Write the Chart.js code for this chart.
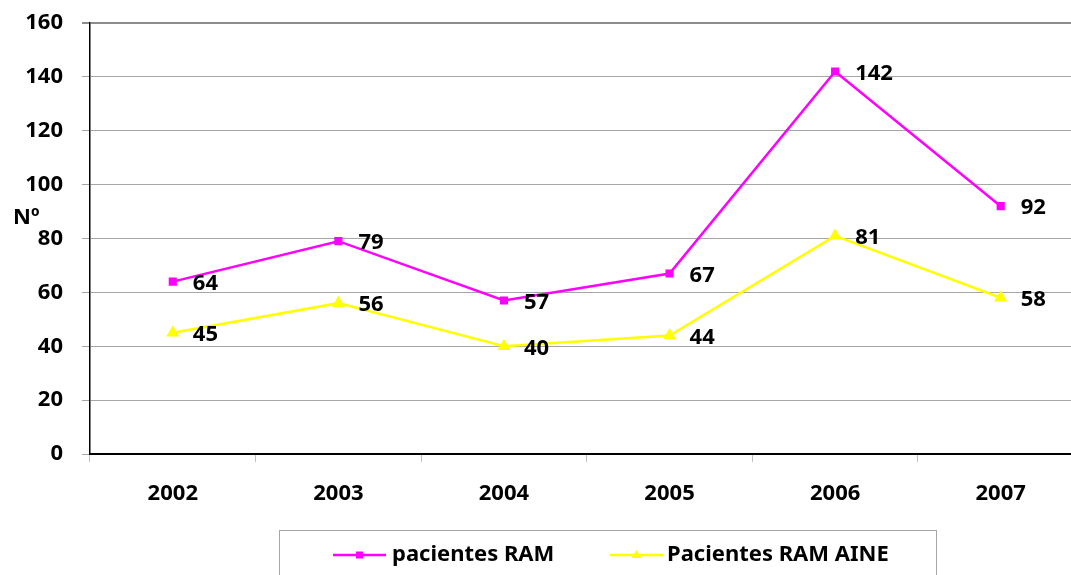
<!DOCTYPE html>
<html>
<head>
<meta charset="utf-8">
<script src="https://cdn.jsdelivr.net/npm/chart.js@4/dist/chart.umd.min.js"></script>
<style>
  html, body { margin:0; padding:0; background:#fff; overflow:hidden; }
  #wrap { position:relative; width:1091px; height:575px; }
</style>
</head>
<body>
<div id="wrap"><canvas id="c"></canvas></div>
<script>
// datos
const years = ['2002','2003','2004','2005','2006','2007'];
const ramValues = [64, 79, 57, 67, 142, 92];
const aineValues = [45, 56, 40, 44, 81, 58];
const seriesNames = ['pacientes RAM', 'Pacientes RAM AINE'];
const yTitle = 'Nº';

const FONT = '"Noto Sans", "Liberation Sans", sans-serif';

// etiquetas de valores a la derecha de cada punto
const valueLabels = {
  id:'valueLabels',
  afterDatasetsDraw(chart){
    const ctx = chart.ctx;
    ctx.save();
    ctx.font = 'bold 22px ' + FONT;
    ctx.fillStyle = '#000';
    ctx.textAlign = 'left';
    ctx.textBaseline = 'middle';
    chart.data.datasets.forEach((ds,i)=>{
      chart.getDatasetMeta(i).data.forEach((pt,j)=>{
        ctx.fillText(String(ds.data[j]), pt.x + 20, pt.y + 2);
      });
    });
    ctx.restore();
  }
};

// titulo eje Y y leyenda con recuadro
const extras = {
  id:'extras',
  afterDraw(chart){
    const ctx = chart.ctx;
    ctx.save();
    ctx.font = 'bold 22px ' + FONT;
    ctx.fillStyle = '#000';
    ctx.textBaseline = 'middle';
    ctx.textAlign = 'left';
    ctx.fillText(yTitle, 13, 218);

    // recuadro leyenda
    ctx.strokeStyle = '#a6a6a6';
    ctx.lineWidth = 1;
    ctx.strokeRect(279.5, 530.5, 657, 60);

    const items = [
      {x:333, len:53, tx:392, ds:chart.data.datasets[0]},
      {x:610, len:53, tx:667, ds:chart.data.datasets[1]}
    ];
    items.forEach(it=>{
      const y = 555;
      ctx.strokeStyle = it.ds.borderColor;
      ctx.lineWidth = 2.5;
      ctx.beginPath(); ctx.moveTo(it.x, y); ctx.lineTo(it.x+it.len, y); ctx.stroke();
      ctx.fillStyle = it.ds.borderColor;
      const cx = it.x + it.len/2;
      if(it.ds.pointStyle === 'rect'){
        ctx.fillRect(cx-3.5, y-3.5, 7, 7);
      } else {
        ctx.beginPath(); ctx.moveTo(cx, y-5); ctx.lineTo(cx+5, y+3); ctx.lineTo(cx-5, y+3); ctx.closePath(); ctx.fill();
      }
      ctx.fillStyle = '#000';
      ctx.font = 'bold 22px ' + FONT;
      ctx.fillText(it.ds.label, it.tx, y);
    });
    ctx.restore();
  }
};

new Chart(document.getElementById('c'), {
  type:'line',
  data:{
    labels: years,
    datasets:[
      { label: seriesNames[0], data: ramValues, borderColor:'#ff00ff', backgroundColor:'#ff00ff',
        borderWidth:2.5, pointStyle:'rect', pointRadius:4, pointHoverRadius:4, tension:0 },
      { label: seriesNames[1], data: aineValues, borderColor:'#ffff00', backgroundColor:'#ffff00',
        borderWidth:2.5, pointStyle:'triangle', pointRadius:5, pointHoverRadius:5, tension:0 }
    ]
  },
  options:{
    responsive:true,
    maintainAspectRatio:false,
    animation:false,
    layout:{ padding:{ top:23, left:0, right:0, bottom:0 } },
    plugins:{ legend:{display:false}, tooltip:{enabled:false} },
    scales:{
      x:{
        offset:true,
        grid:{ offset:true, drawOnChartArea:false, drawTicks:true, tickLength:8, color:'#bfbfbf' },
        border:{ color:'#000', width:2 },
        ticks:{ font:{family:FONT, size:22, weight:'bold'}, color:'#000', padding:19, maxRotation:0 },
        afterFit(s){ s.height = 121; }
      },
      y:{
        min:0, max:160,
        ticks:{ stepSize:20, font:{family:FONT, size:22, weight:'bold', lineHeight:0.3}, color:'#000', padding:19 },
        grid:{ color:(c)=> c.tick && c.tick.value===160 ? '#8c8c8c' : '#a6a6a6',
               lineWidth:(c)=> c.tick && c.tick.value===160 ? 2 : 1,
               tickLength:8, drawTicks:true },
        border:{ color:'#000', width:1.5 },
        afterFit(s){ s.width = 90; }
      }
    }
  },
  plugins:[valueLabels, extras]
});
</script>
</body>
</html>
